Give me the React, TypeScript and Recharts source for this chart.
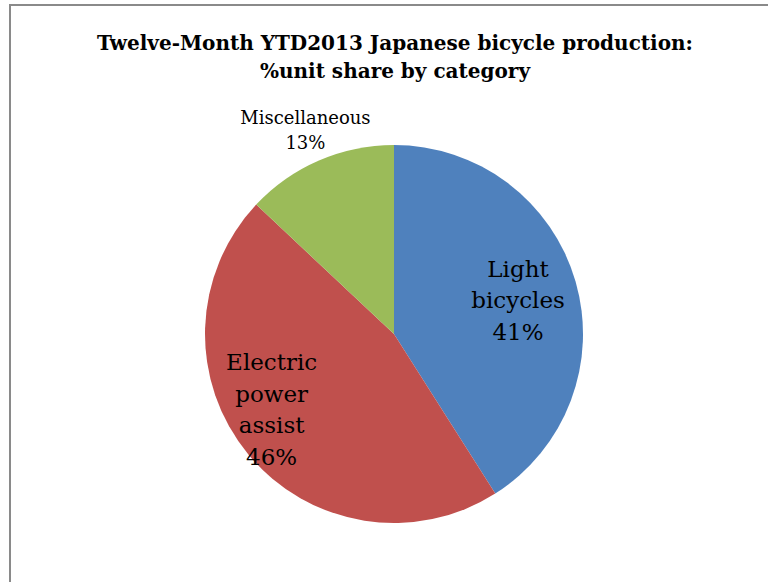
import React from 'react';
import { PieChart, Pie, Cell } from 'recharts';

const categories = ['Light bicycles', 'Electric power assist', 'Miscellaneous'];
const shares = [41, 46, 13];
const colors = ['#4F81BD', '#C0504D', '#9BBB59'];
const titleLines = ['Twelve-Month YTD2013 Japanese bicycle production:', '%unit share by category'];

// label placement relative to outer radius (Excel best-fit look)
const labelRadius = [0.68, 0.76, 1.18];
const labelAngleShift = [-1, -8, 0];
const labelFont = [23, 23, 18];
const labelLineGap = [31.5, 31.5, 25];

const data = categories.map((name, i) => ({ name, value: shares[i] }));

const RADIAN = Math.PI / 180;

const renderLabel = (props: any) => {
  const { cx, cy, midAngle, outerRadius, index, name, value } = props;
  const ang = (midAngle + labelAngleShift[index]) * RADIAN;
  const r = outerRadius * labelRadius[index];
  const x = cx + r * Math.cos(ang);
  const y = cy - r * Math.sin(ang);
  const lines = [...String(name).split(' '), `${value}%`];
  const gap = labelLineGap[index];
  const top = y - ((lines.length - 1) * gap) / 2;
  return (
    <text
      x={x}
      y={top}
      textAnchor="middle"
      dominantBaseline="central"
      fill="#000"
      fontFamily="'DejaVu Serif', serif"
      fontSize={labelFont[index]}
    >
      {lines.map((l, i) => (
        <tspan key={i} x={x} y={top + i * gap} dominantBaseline="central">
          {l}
        </tspan>
      ))}
    </text>
  );
};

export default function App() {
  return (
    <div style={{ position: 'fixed', left: 0, top: 0, width: 768, height: 582, overflow: 'hidden', background: '#fff' }}>
      <div
        style={{
          position: 'absolute',
          left: 9,
          top: 4,
          width: 800,
          height: 640,
          border: '2px solid #8a8a8a',
          boxSizing: 'border-box',
        }}
      />
      <div
        style={{
          position: 'absolute',
          left: 0,
          top: 29,
          width: 790,
          textAlign: 'center',
          fontFamily: "'DejaVu Serif', serif",
          fontWeight: 'bold',
          fontSize: 20,
          lineHeight: '28px',
          color: '#000',
        }}
      >
        {titleLines.map((t, i) => (
          <div key={i}>{t}</div>
        ))}
      </div>
      <div style={{ position: 'absolute', left: 0, top: 0 }}>
        <PieChart width={768} height={582} margin={{ top: 0, right: 0, bottom: 0, left: 0 }}>
          <Pie
            data={data}
            dataKey="value"
            nameKey="name"
            cx={394}
            cy={334}
            outerRadius={189}
            startAngle={90}
            endAngle={-270}
            stroke="none"
            labelLine={false}
            label={renderLabel}
            isAnimationActive={false}
          >
            {data.map((d, i) => (
              <Cell key={d.name} fill={colors[i]} />
            ))}
          </Pie>
        </PieChart>
      </div>
    </div>
  );
}
